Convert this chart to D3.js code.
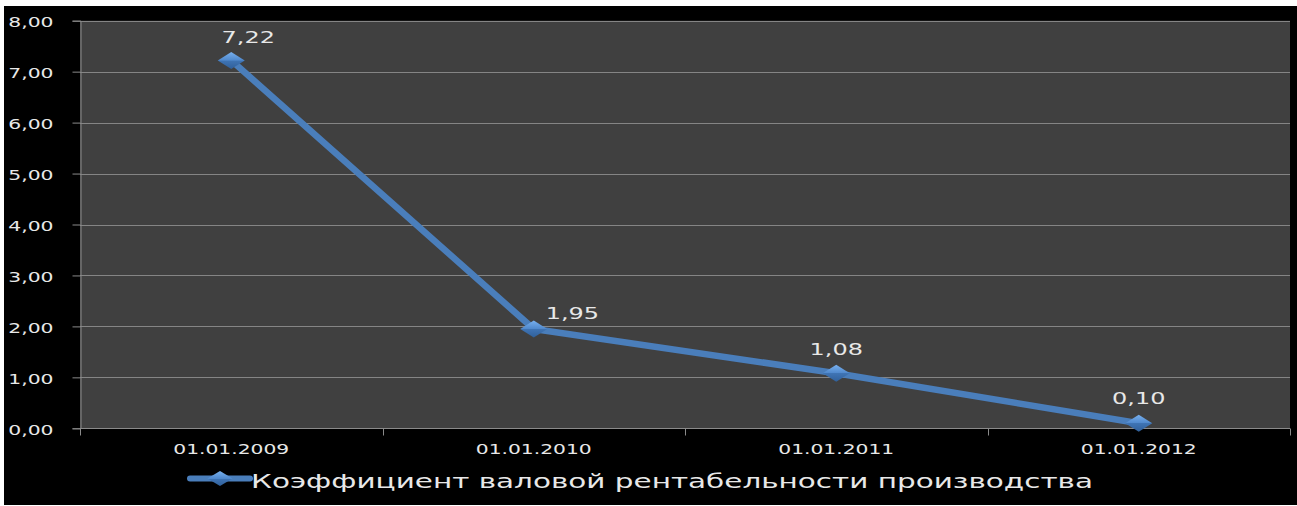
<!DOCTYPE html>
<html>
<head>
<meta charset="utf-8">
<script src="https://cdn.jsdelivr.net/npm/d3@7"></script>
<style>
  html, body { margin: 0; padding: 0; background: #ffffff; }
  svg { display: block; }
  text { font-family: "DejaVu Sans", sans-serif; fill: #e8e8e8; }
</style>
</head>
<body>
<svg id="chart" width="1297" height="506"></svg>
<script>
// Series: gross production profitability ratio by date
const categories = ["01.01.2009", "01.01.2010", "01.01.2011", "01.01.2012"];
const values = [7.22, 1.95, 1.08, 0.10];
const yTicks = [0, 1, 2, 3, 4, 5, 6, 7, 8];
const seriesName = "Коэффициент валовой рентабельности производства";

const fmt = v => v.toFixed(2).replace(".", ",");

const svg = d3.select("#chart");
const W = 1297, H = 506;
const plot = { left: 80, right: 1290, top: 20.7, bottom: 428.3 };

// black canvas framed by a thin white margin
svg.append("rect").attr("x", 4).attr("y", 6).attr("width", W - 4).attr("height", H - 7).attr("fill", "#000");

const x = d3.scaleBand().domain(categories).range([plot.left, plot.right]);
const y = d3.scaleLinear().domain([0, 8]).range([plot.bottom, plot.top]);

// plot area
svg.append("rect")
  .attr("x", plot.left).attr("y", plot.top)
  .attr("width", plot.right - plot.left).attr("height", plot.bottom - plot.top)
  .attr("fill", "#404040");

// stretch a text horizontally by factor k, keeping its anchor point
function stretch(sel, k, anchor) {
  sel.each(function () {
    const t = d3.select(this);
    const L = this.getComputedTextLength();
    const target = L * k;
    const x0 = +t.attr("x");
    let start = x0;
    if (anchor === "middle") start = x0 - target / 2;
    else if (anchor === "end") start = x0 - target;
    t.attr("text-anchor", "start").attr("x", start)
      .attr("textLength", target).attr("lengthAdjust", "spacingAndGlyphs");
  });
}

// horizontal gridlines
svg.append("g").selectAll("line").data(yTicks.filter(d => d > 0)).join("line")
  .attr("x1", plot.left).attr("x2", plot.right)
  .attr("y1", d => Math.round(y(d)) + 0.5).attr("y2", d => Math.round(y(d)) + 0.5)
  .attr("stroke", "#858585").attr("stroke-width", 1);

// y axis
const yAxis = svg.append("g").attr("transform", `translate(${plot.left + 0.5},0)`)
  .call(d3.axisLeft(y).tickValues(yTicks).tickSize(8).tickFormat(fmt));
yAxis.select(".domain").attr("stroke", "#8a8a8a");
yAxis.selectAll(".tick line").attr("stroke", "#8a8a8a");
yAxis.selectAll(".tick text")
  .attr("x", -27).attr("dy", null).attr("y", 6)
  .style("font-size", "14px").attr("fill", "#e8e8e8")
  .call(stretch, 1.45, "end");

// x axis with ticks at band boundaries
const xAxisG = svg.append("g").attr("transform", `translate(0,${Math.round(plot.bottom) + 0.5})`);
xAxisG.append("line").attr("x1", plot.left).attr("x2", plot.right).attr("stroke", "#8a8a8a");
const bounds = categories.map(c => x(c)).concat([x.range()[1]]);
xAxisG.selectAll("line.tk").data(bounds).join("line").attr("class", "tk")
  .attr("x1", d => Math.round(d) + 0.5).attr("x2", d => Math.round(d) + 0.5)
  .attr("y1", 0).attr("y2", 7).attr("stroke", "#8a8a8a");
xAxisG.selectAll("text").data(categories).join("text")
  .attr("x", d => x(d) + x.bandwidth() / 2).attr("y", 25.5)
  .style("font-size", "13.5px").attr("fill", "#e0e0e0")
  .text(d => d)
  .call(stretch, 1.5, "middle");

// diamond marker gradient
const defs = svg.append("defs");
const grad = defs.append("linearGradient").attr("id", "diam").attr("x1", 0).attr("y1", 0).attr("x2", 0).attr("y2", 1);
grad.append("stop").attr("offset", "0").attr("stop-color", "#78b0ee");
grad.append("stop").attr("offset", "0.5").attr("stop-color", "#4f88cc");
grad.append("stop").attr("offset", "0.51").attr("stop-color", "#3f74b4");
grad.append("stop").attr("offset", "1").attr("stop-color", "#30609a");

const lineColor = "#4a7ebb";
const cx = d => x(d) + x.bandwidth() / 2;
const pts = categories.map((c, i) => [cx(c), y(values[i])]);

svg.append("path")
  .attr("d", d3.line()(pts))
  .attr("fill", "none").attr("stroke", lineColor).attr("stroke-width", 6.5)
  .attr("stroke-linejoin", "round");

const diamond = (w, h) => `M${-w / 2},0L0,${-h / 2}L${w / 2},0L0,${h / 2}Z`;
svg.append("g").selectAll("path").data(pts).join("path")
  .attr("transform", d => `translate(${d[0]},${d[1]})`)
  .attr("d", diamond(27, 17))
  .attr("fill", "url(#diam)");

// data labels (first two nudged aside from the line)
const labelShift = [[17, -17, "middle"], [12, -10, "start"], [0, -18, "middle"], [0, -19, "middle"]];
svg.append("g").selectAll("text").data(values).join("text")
  .attr("x", (d, i) => pts[i][0] + labelShift[i][0])
  .attr("y", (d, i) => pts[i][1] + labelShift[i][1])
  .style("font-size", "16.5px").attr("fill", "#ececec")
  .text(fmt)
  .each(function (d, i) { d3.select(this).call(stretch, 1.45, labelShift[i][2]); });

// legend
const lg = svg.append("g").attr("transform", "translate(0,478.5)");
lg.append("line").attr("x1", 190).attr("x2", 250).attr("stroke", lineColor).attr("stroke-width", 6).attr("stroke-linecap", "round");
lg.append("path").attr("transform", "translate(220,0)").attr("d", diamond(25, 15)).attr("fill", "url(#diam)");
lg.append("text").attr("x", 251).attr("y", 9)
  .style("font-size", "19.5px").attr("fill", "#f0f0f0")
  .text(seriesName)
  .each(function () {
    const L = this.getComputedTextLength();
    d3.select(this).attr("textLength", 842).attr("lengthAdjust", "spacingAndGlyphs");
  });
</script>
</body>
</html>
